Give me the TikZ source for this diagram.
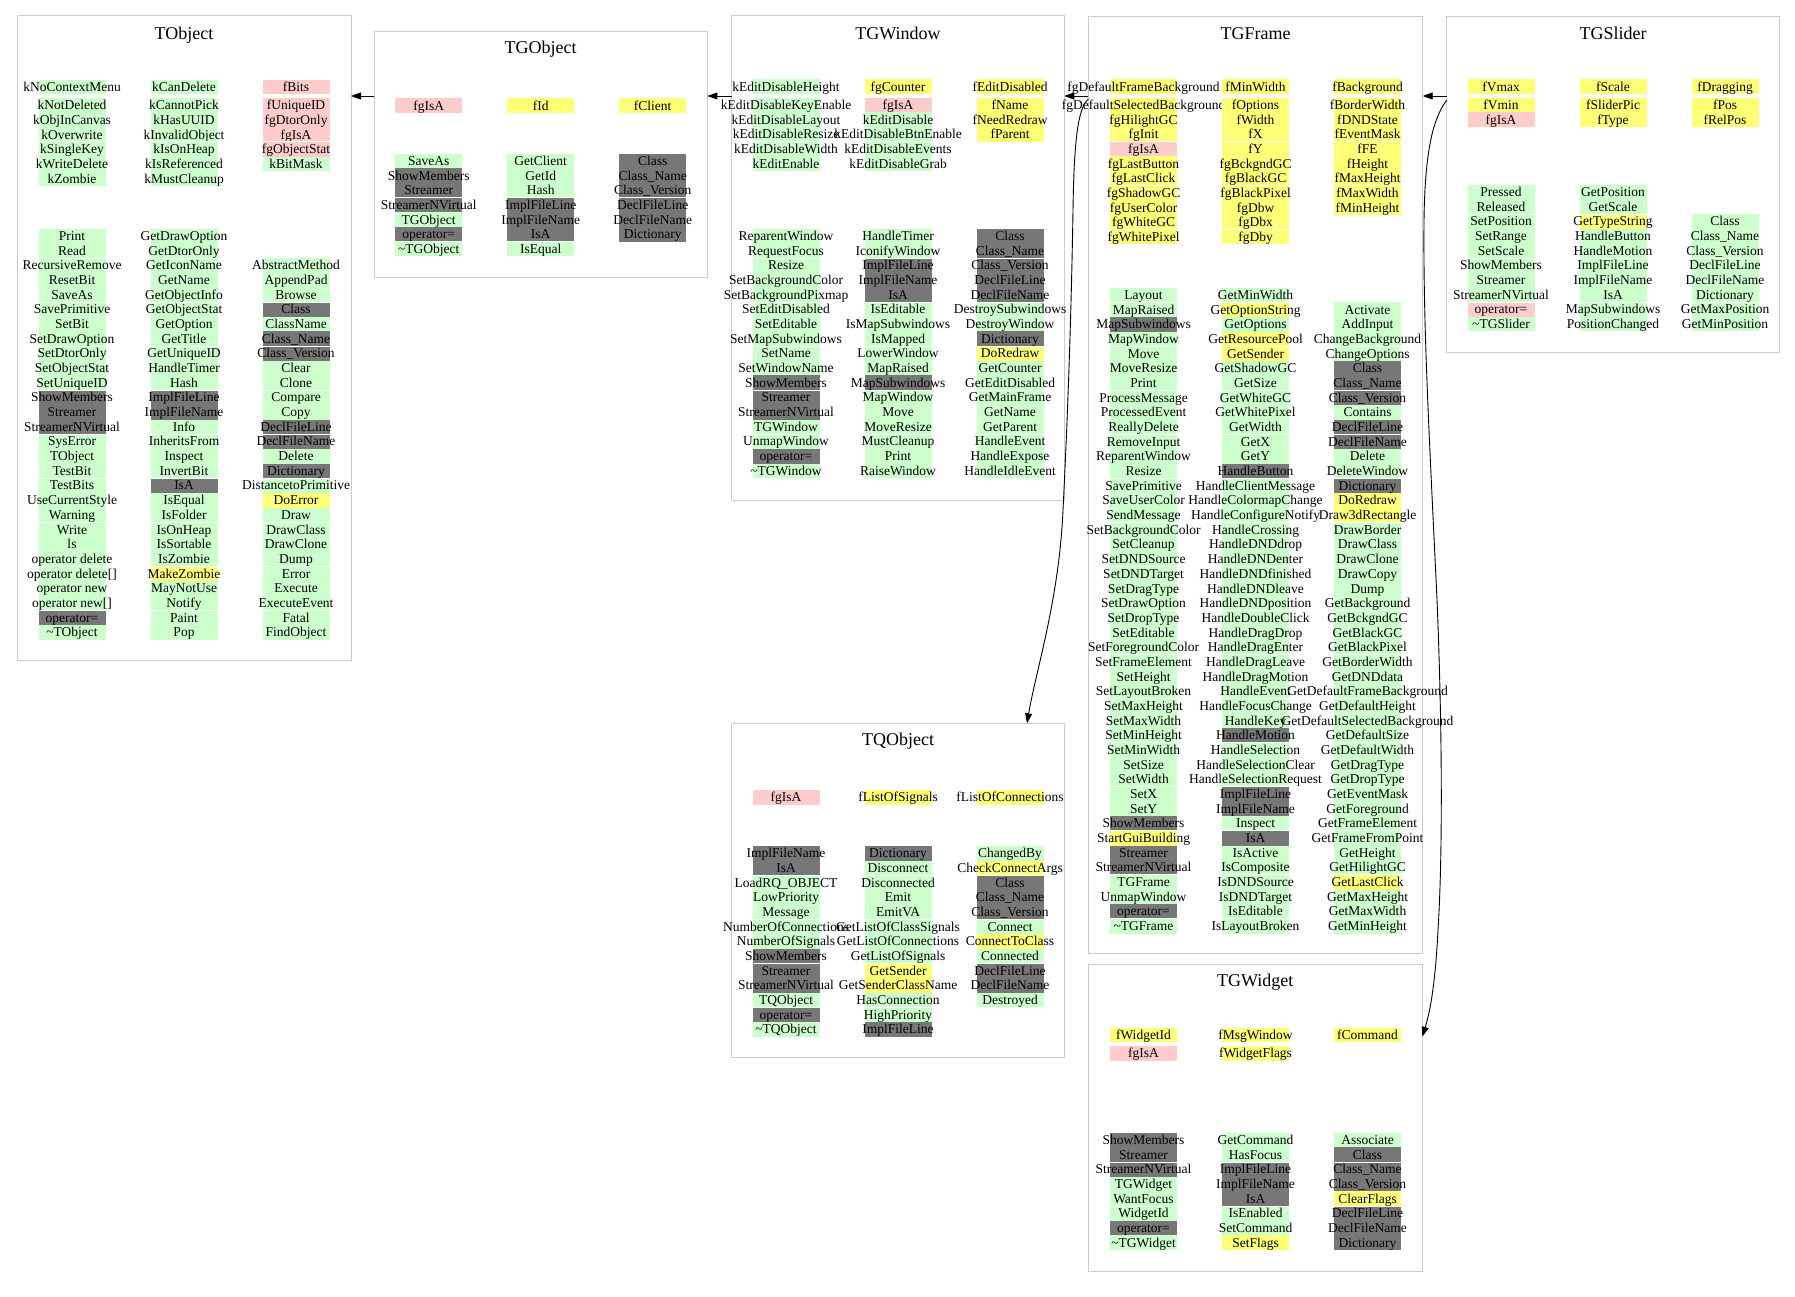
\documentclass[tikz,border=0pt]{standalone}
\usepackage{fontspec}
\setmainfont{Liberation Serif}
\usetikzlibrary{arrows.meta,calc}
\definecolor{cG}{HTML}{CCFFCC}
\definecolor{cD}{HTML}{777777}
\definecolor{cY}{HTML}{FFFF77}
\definecolor{cP}{HTML}{FFCCCC}
\definecolor{cB}{HTML}{CCCCCC}
\tikzset{
  box/.style={draw=cB, line width=1pt, inner sep=0pt, outer sep=0pt},
  ttl/.style={font=\fontsize{18}{20}\selectfont, inner sep=0pt, anchor=base},
  txt/.style={font=\fontsize{13.5}{14}\selectfont, inner sep=0pt, anchor=base},
  arr/.style={-{Triangle[length=10pt,width=7pt]}, line width=0.9pt, black},
}
% #1 name prefix, #2 x, #3 y of row 0, #4 start row, #5 gap flag, #6 phase, #7 list
\newcommand\ecol[7]{%
  \foreach [count=\ii from 0] \bgc/\lbl in {#7} {%
    \pgfmathtruncatemacro\rr{#4+\ii}%
    \pgfmathsetmacro\yy{#3+\rr*14.68+#5*(\rr>=1)*3.6}%
    \fill[\bgc] ({#2-33.5},{\yy-7.34}) rectangle ({#2+33.5},{\yy+7.34});%
    \pgfmathtruncatemacro\sepf{(\ii>0)*(mod(\rr-#6+30,3)==0)}%
    \ifnum\sepf=1 \draw[white,line width=1pt] ({#2-33.5},{\yy-7.34}) -- ({#2+33.5},{\yy-7.34});\fi
    \node[txt] (#1-\ii) at (#2,{\yy+4.4}) {\lbl};%
  }%
}
\begin{document}
\begin{tikzpicture}[x=1pt,y=-1pt]
\useasboundingbox[fill=white] (0,0) rectangle (1795,1297);

% ---------- boxes ----------
\node[box, minimum width=334pt, minimum height=644pt] (TObject) at (184,338) {};
\node[box, minimum width=333.3pt, minimum height=245.6pt] (TGObject) at (540.7,154.5) {};
\node[box, minimum width=332.6pt, minimum height=484pt] (TGWindow) at (898,258) {};
\node[box, minimum width=334.4pt, minimum height=937.3pt] (TGFrame) at (1255.5,484.7) {};
\node[box, minimum width=332.6pt, minimum height=336.3pt] (TGSlider) at (1613,184.2) {};
\node[box, minimum width=332.6pt, minimum height=334pt] (TQObject) at (898,890.3) {};
\node[box, minimum width=334pt, minimum height=307.4pt] (TGWidget) at (1255.3,1118) {};

% ---------- titles ----------
\node[ttl] (TObject-t) at (184,39.3) {TObject};
\node[ttl] (TGObject-t) at (540.7,53.5) {TGObject};
\node[ttl] (TGWindow-t) at (898,39.3) {TGWindow};
\node[ttl] (TGFrame-t) at (1255.5,39.3) {TGFrame};
\node[ttl] (TGSlider-t) at (1613,39.3) {TGSlider};
\node[ttl] (TQObject-t) at (898,745) {TQObject};
\node[ttl] (TGWidget-t) at (1255.3,986) {TGWidget};

% ---------- TObject ----------
\ecol{TObject-a1}{72}{87}{0}{1}{1}{cG/kNoContextMenu, cG/kNotDeleted, cG/kObjInCanvas, cG/kOverwrite, cG/kSingleKey, cG/kWriteDelete, cG/kZombie}
\ecol{TObject-a2}{184}{87}{0}{1}{1}{cG/kCanDelete, cG/kCannotPick, cG/kHasUUID, cG/kInvalidObject, cG/kIsOnHeap, cG/kIsReferenced, cG/kMustCleanup}
\ecol{TObject-a3}{296}{87}{0}{1}{1}{cP/fBits, cP/fUniqueID, cP/fgDtorOnly, cP/fgIsA, cP/fgObjectStat, cG/kBitMask}
\ecol{TObject-m1}{72}{236}{0}{0}{2}{cG/Print, cG/Read, cG/RecursiveRemove, cG/ResetBit, cG/SaveAs, cG/SavePrimitive, cG/SetBit, cG/SetDrawOption, cG/SetDtorOnly, cG/SetObjectStat, cG/SetUniqueID, cD/ShowMembers, cD/Streamer, cD/StreamerNVirtual, cG/SysError, cG/TObject, cG/TestBit, cG/TestBits, cG/UseCurrentStyle, cG/Warning, cG/Write, cG/ls, cG/operator delete, cG/operator delete[], cG/operator new, cG/operator new[], cD/operator=, cG/\textasciitilde{}TObject}
\ecol{TObject-m2}{184}{236}{0}{0}{2}{cG/GetDrawOption, cG/GetDtorOnly, cG/GetIconName, cG/GetName, cG/GetObjectInfo, cG/GetObjectStat, cG/GetOption, cG/GetTitle, cG/GetUniqueID, cG/HandleTimer, cG/Hash, cD/ImplFileLine, cD/ImplFileName, cG/Info, cG/InheritsFrom, cG/Inspect, cG/InvertBit, cD/IsA, cG/IsEqual, cG/IsFolder, cG/IsOnHeap, cG/IsSortable, cG/IsZombie, cY/MakeZombie, cG/MayNotUse, cG/Notify, cG/Paint, cG/Pop}
\ecol{TObject-m3}{296}{236}{2}{0}{2}{cG/AbstractMethod, cG/AppendPad, cG/Browse, cD/Class, cG/ClassName, cD/Class\_Name, cD/Class\_Version, cG/Clear, cG/Clone, cG/Compare, cG/Copy, cD/DeclFileLine, cD/DeclFileName, cG/Delete, cD/Dictionary, cG/DistancetoPrimitive, cY/DoError, cG/Draw, cG/DrawClass, cG/DrawClone, cG/Dump, cG/Error, cG/Execute, cG/ExecuteEvent, cG/Fatal, cG/FindObject}

% ---------- TGObject ----------
\ecol{TGObject-a1}{428.7}{105.7}{0}{1}{1}{cP/fgIsA}
\ecol{TGObject-a2}{540.7}{105.7}{0}{1}{1}{cY/fId}
\ecol{TGObject-a3}{652.7}{105.7}{0}{1}{1}{cY/fClient}
\ecol{TGObject-m1}{428.7}{161}{0}{0}{0}{cG/SaveAs, cD/ShowMembers, cD/Streamer, cD/StreamerNVirtual, cG/TGObject, cD/operator=, cG/\textasciitilde{}TGObject}
\ecol{TGObject-m2}{540.7}{161}{0}{0}{0}{cG/GetClient, cG/GetId, cG/Hash, cD/ImplFileLine, cD/ImplFileName, cD/IsA, cG/IsEqual}
\ecol{TGObject-m3}{652.7}{161}{0}{0}{0}{cD/Class, cD/Class\_Name, cD/Class\_Version, cD/DeclFileLine, cD/DeclFileName, cD/Dictionary}

% ---------- TGWindow ----------
\ecol{TGWindow-a1}{786}{86.7}{0}{1}{1}{cG/kEditDisableHeight, cG/kEditDisableKeyEnable, cG/kEditDisableLayout, cG/kEditDisableResize, cG/kEditDisableWidth, cG/kEditEnable}
\ecol{TGWindow-a2}{898}{86.7}{0}{1}{1}{cY/fgCounter, cP/fgIsA, cG/kEditDisable, cG/kEditDisableBtnEnable, cG/kEditDisableEvents, cG/kEditDisableGrab}
\ecol{TGWindow-a3}{1010}{86.7}{0}{1}{1}{cY/fEditDisabled, cY/fName, cY/fNeedRedraw, cY/fParent}
\ecol{TGWindow-m1}{786}{236}{0}{0}{2}{cG/ReparentWindow, cG/RequestFocus, cG/Resize, cG/SetBackgroundColor, cG/SetBackgroundPixmap, cG/SetEditDisabled, cG/SetEditable, cG/SetMapSubwindows, cG/SetName, cG/SetWindowName, cD/ShowMembers, cD/Streamer, cD/StreamerNVirtual, cG/TGWindow, cG/UnmapWindow, cD/operator=, cG/\textasciitilde{}TGWindow}
\ecol{TGWindow-m2}{898}{236}{0}{0}{2}{cG/HandleTimer, cG/IconifyWindow, cD/ImplFileLine, cD/ImplFileName, cD/IsA, cG/IsEditable, cG/IsMapSubwindows, cG/IsMapped, cG/LowerWindow, cG/MapRaised, cD/MapSubwindows, cG/MapWindow, cG/Move, cG/MoveResize, cG/MustCleanup, cG/Print, cG/RaiseWindow}
\ecol{TGWindow-m3}{1010}{236}{0}{0}{2}{cD/Class, cD/Class\_Name, cD/Class\_Version, cD/DeclFileLine, cD/DeclFileName, cG/DestroySubwindows, cG/DestroyWindow, cD/Dictionary, cY/DoRedraw, cG/GetCounter, cG/GetEditDisabled, cG/GetMainFrame, cG/GetName, cG/GetParent, cG/HandleEvent, cG/HandleExpose, cG/HandleIdleEvent}

% ---------- TGFrame ----------
\ecol{TGFrame-a1}{1143.5}{86.7}{0}{1}{1}{cY/fgDefaultFrameBackground, cY/fgDefaultSelectedBackground, cY/fgHilightGC, cY/fgInit, cP/fgIsA, cY/fgLastButton, cY/fgLastClick, cY/fgShadowGC, cY/fgUserColor, cY/fgWhiteGC, cY/fgWhitePixel}
\ecol{TGFrame-a2}{1255.5}{86.7}{0}{1}{1}{cY/fMinWidth, cY/fOptions, cY/fWidth, cY/fX, cY/fY, cY/fgBckgndGC, cY/fgBlackGC, cY/fgBlackPixel, cY/fgDbw, cY/fgDbx, cY/fgDby}
\ecol{TGFrame-a3}{1367.5}{86.7}{0}{1}{1}{cY/fBackground, cY/fBorderWidth, cY/fDNDState, cY/fEventMask, cY/fFE, cY/fHeight, cY/fMaxHeight, cY/fMaxWidth, cY/fMinHeight}
\ecol{TGFrame-m1}{1143.5}{295}{0}{0}{1}{cG/Layout, cG/MapRaised, cD/MapSubwindows, cG/MapWindow, cG/Move, cG/MoveResize, cG/Print, cG/ProcessMessage, cG/ProcessedEvent, cG/ReallyDelete, cG/RemoveInput, cG/ReparentWindow, cG/Resize, cG/SavePrimitive, cG/SaveUserColor, cG/SendMessage, cG/SetBackgroundColor, cG/SetCleanup, cG/SetDNDSource, cG/SetDNDTarget, cG/SetDragType, cG/SetDrawOption, cG/SetDropType, cG/SetEditable, cG/SetForegroundColor, cG/SetFrameElement, cG/SetHeight, cG/SetLayoutBroken, cG/SetMaxHeight, cG/SetMaxWidth, cG/SetMinHeight, cG/SetMinWidth, cG/SetSize, cG/SetWidth, cG/SetX, cG/SetY, cD/ShowMembers, cY/StartGuiBuilding, cD/Streamer, cD/StreamerNVirtual, cG/TGFrame, cG/UnmapWindow, cD/operator=, cG/\textasciitilde{}TGFrame}
\ecol{TGFrame-m2}{1255.5}{295}{0}{0}{1}{cG/GetMinWidth, cY/GetOptionString, cG/GetOptions, cY/GetResourcePool, cY/GetSender, cG/GetShadowGC, cG/GetSize, cG/GetWhiteGC, cG/GetWhitePixel, cG/GetWidth, cG/GetX, cG/GetY, cD/HandleButton, cG/HandleClientMessage, cG/HandleColormapChange, cG/HandleConfigureNotify, cG/HandleCrossing, cG/HandleDNDdrop, cG/HandleDNDenter, cG/HandleDNDfinished, cG/HandleDNDleave, cG/HandleDNDposition, cG/HandleDoubleClick, cG/HandleDragDrop, cG/HandleDragEnter, cG/HandleDragLeave, cG/HandleDragMotion, cG/HandleEvent, cG/HandleFocusChange, cG/HandleKey, cD/HandleMotion, cG/HandleSelection, cG/HandleSelectionClear, cG/HandleSelectionRequest, cD/ImplFileLine, cD/ImplFileName, cG/Inspect, cD/IsA, cG/IsActive, cG/IsComposite, cG/IsDNDSource, cG/IsDNDTarget, cG/IsEditable, cG/IsLayoutBroken}
\ecol{TGFrame-m3}{1367.5}{295}{1}{0}{1}{cG/Activate, cG/AddInput, cG/ChangeBackground, cG/ChangeOptions, cD/Class, cD/Class\_Name, cD/Class\_Version, cG/Contains, cD/DeclFileLine, cD/DeclFileName, cG/Delete, cG/DeleteWindow, cD/Dictionary, cY/DoRedraw, cY/Draw3dRectangle, cG/DrawBorder, cG/DrawClass, cG/DrawClone, cG/DrawCopy, cG/Dump, cG/GetBackground, cG/GetBckgndGC, cG/GetBlackGC, cG/GetBlackPixel, cG/GetBorderWidth, cG/GetDNDdata, cG/GetDefaultFrameBackground, cG/GetDefaultHeight, cG/GetDefaultSelectedBackground, cG/GetDefaultSize, cG/GetDefaultWidth, cG/GetDragType, cG/GetDropType, cG/GetEventMask, cG/GetForeground, cG/GetFrameElement, cG/GetFrameFromPoint, cG/GetHeight, cG/GetHilightGC, cY/GetLastClick, cG/GetMaxHeight, cG/GetMaxWidth, cG/GetMinHeight}

% ---------- TGSlider ----------
\ecol{TGSlider-a1}{1501}{86.7}{0}{1}{1}{cY/fVmax, cY/fVmin, cP/fgIsA}
\ecol{TGSlider-a2}{1613}{86.7}{0}{1}{1}{cY/fScale, cY/fSliderPic, cY/fType}
\ecol{TGSlider-a3}{1725}{86.7}{0}{1}{1}{cY/fDragging, cY/fPos, cY/fRelPos}
\ecol{TGSlider-m1}{1501}{192}{0}{0}{2}{cG/Pressed, cG/Released, cG/SetPosition, cG/SetRange, cG/SetScale, cG/ShowMembers, cG/Streamer, cG/StreamerNVirtual, cP/operator=, cG/\textasciitilde{}TGSlider}
\ecol{TGSlider-m2}{1613}{192}{0}{0}{2}{cG/GetPosition, cG/GetScale, cY/GetTypeString, cG/HandleButton, cG/HandleMotion, cG/ImplFileLine, cG/ImplFileName, cG/IsA, cG/MapSubwindows, cG/PositionChanged}
\ecol{TGSlider-m3}{1725}{192}{2}{0}{2}{cG/Class, cG/Class\_Name, cG/Class\_Version, cG/DeclFileLine, cG/DeclFileName, cG/Dictionary, cG/GetMaxPosition, cG/GetMinPosition}

% ---------- TQObject ----------
\ecol{TQObject-a1}{786}{797.3}{0}{1}{1}{cP/fgIsA}
\ecol{TQObject-a2}{898}{797.3}{0}{1}{1}{cY/fListOfSignals}
\ecol{TQObject-a3}{1010}{797.3}{0}{1}{1}{cY/fListOfConnections}
\ecol{TQObject-m1}{786}{853.3}{0}{0}{2}{cD/ImplFileName, cD/IsA, cG/LoadRQ\_OBJECT, cG/LowPriority, cG/Message, cG/NumberOfConnections, cG/NumberOfSignals, cD/ShowMembers, cD/Streamer, cD/StreamerNVirtual, cG/TQObject, cD/operator=, cG/\textasciitilde{}TQObject}
\ecol{TQObject-m2}{898}{853.3}{0}{0}{2}{cD/Dictionary, cG/Disconnect, cG/Disconnected, cG/Emit, cG/EmitVA, cG/GetListOfClassSignals, cG/GetListOfConnections, cG/GetListOfSignals, cY/GetSender, cY/GetSenderClassName, cG/HasConnection, cG/HighPriority, cD/ImplFileLine}
\ecol{TQObject-m3}{1010}{853.3}{0}{0}{2}{cG/ChangedBy, cY/CheckConnectArgs, cD/Class, cD/Class\_Name, cD/Class\_Version, cG/Connect, cY/ConnectToClass, cG/Connected, cD/DeclFileLine, cD/DeclFileName, cG/Destroyed}

% ---------- TGWidget ----------
\ecol{TGWidget-a1}{1143.5}{1035}{0}{1}{1}{cY/fWidgetId, cP/fgIsA}
\ecol{TGWidget-a2}{1255.5}{1035}{0}{1}{1}{cY/fMsgWindow, cY/fWidgetFlags}
\ecol{TGWidget-a3}{1367.5}{1035}{0}{1}{1}{cY/fCommand}
\ecol{TGWidget-m1}{1143.5}{1140}{0}{0}{2}{cD/ShowMembers, cD/Streamer, cD/StreamerNVirtual, cG/TGWidget, cG/WantFocus, cG/WidgetId, cD/operator=, cG/\textasciitilde{}TGWidget}
\ecol{TGWidget-m2}{1255.5}{1140}{0}{0}{2}{cG/GetCommand, cG/HasFocus, cD/ImplFileLine, cD/ImplFileName, cD/IsA, cG/IsEnabled, cG/SetCommand, cY/SetFlags}
\ecol{TGWidget-m3}{1367.5}{1140}{0}{0}{2}{cG/Associate, cD/Class, cD/Class\_Name, cD/Class\_Version, cY/ClearFlags, cD/DeclFileLine, cD/DeclFileName, cD/Dictionary}

% ---------- connectors ----------
\coordinate (ya) at (0,96);
\draw[arr] (TGObject.west |- ya) -- (TObject.east |- ya);
\draw[arr] (TGWindow.west |- ya) -- (TGObject.east |- ya);
\draw[arr] (TGFrame.west |- ya) -- (TGWindow.east |- ya);
\draw[arr] (TGSlider.west |- ya) -- (TGFrame.east |- ya);

\coordinate (c1s) at ($(TGFrame.north west)+(0,83)$);
\coordinate (c1e) at ($(TQObject.north west)+(295.3,0)$);
\draw[arr] (c1s) .. controls (1078,108) and (1074,140) .. (1073,210)
  .. controls (1071,330) and (1067,430) .. (1063,510)
  .. controls (1059,600) and (1036,670) .. (c1e);

\coordinate (c2s) at ($(TGSlider.north west)+(0,84)$);
\coordinate (c2e) at ($(TGWidget.north east)+(0,72.4)$);
\draw[arr] (c2s) .. controls (1436,115) and (1425,140) .. (1424,220)
  .. controls (1423,330) and (1430,450) .. (1437,600)
  .. controls (1442,720) and (1443,850) .. (1438,930)
  .. controls (1435,990) and (1429,1015) .. (c2e);
\end{tikzpicture}
\end{document}
